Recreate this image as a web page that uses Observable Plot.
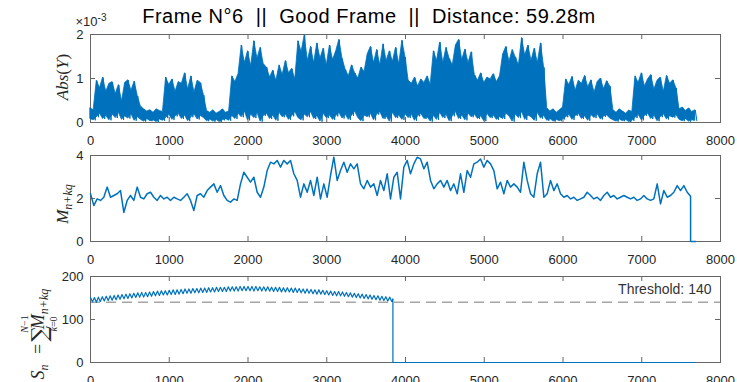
<!DOCTYPE html>
<html><head><meta charset="utf-8">
<script src="https://cdn.jsdelivr.net/npm/d3@7"></script>
<script src="https://cdn.jsdelivr.net/npm/@observablehq/plot@0.6"></script>
<style>
html,body{margin:0;padding:0;background:#fff;}
#fig{position:relative;width:737px;height:382px;overflow:hidden;font-family:"Liberation Sans",Arial,sans-serif;}
#fig svg{position:absolute;left:0;overflow:visible;}
</style></head><body><div id="fig"></div>
<script>
const title = "Frame N°6  ||  Good Frame  ||  Distance: 59.28m";
const xTicks = [0,1000,2000,3000,4000,5000,6000,7000,8000];
const absTicks = [0,1,2];      // units of 1e-3
const mTicks = [0,2,4];
const sTicks = [0,100,200];
const threshold = 140;
const thresholdLabel = "Threshold: 140";

// Panel 1: Abs(Y) (x 1e-3), peak and trough per 40-sample step
const absStep = 40;
const absHi = [0.32,0.28,
0.95,0.78,1.02,0.70,0.88,0.92,0.65,0.85,0.48,0.90,0.96,0.72,0.93,0.60,
0.36,0.30,0.25,0.28,0.22,0.30,0.26,0.24,
1.02,0.85,0.98,0.70,0.92,0.88,1.12,0.75,1.05,0.68,0.95,0.90,0.62,
0.26,0.22,0.28,0.20,0.24,0.30,0.22,0.25,
1.05,0.92,1.10,
1.75,1.35,1.62,1.28,1.85,1.45,1.70,1.32,
1.25,1.02,1.18,0.95,1.30,1.08,1.40,1.12,1.22,0.98,1.85,
1.60,1.98,1.40,1.72,1.35,1.80,1.45,1.68,1.30,1.75,1.42,
1.62,1.88,1.45,
1.20,1.05,1.30,1.12,1.00,1.25,1.15,
1.55,1.72,1.35,1.65,1.30,1.78,1.40,1.62,1.38,1.70,1.32,1.86,1.48,
0.95,0.88,1.02,0.82,0.98,0.90,1.05,0.86,
1.62,1.40,1.82,1.35,1.70,1.45,1.30,1.75,1.88,1.42,1.66,1.35,1.60,
1.08,0.95,1.12,0.90,1.02,0.98,1.10,0.92,1.05,
1.55,1.72,1.38,1.65,1.48,1.30,1.92,1.52,1.75,1.40,1.68,1.35,1.80,1.25,
0.32,0.25,0.30,0.22,0.28,0.34,
0.98,0.85,1.04,0.72,0.95,0.88,1.06,0.80,0.96,0.68,0.92,1.00,0.76,0.94,0.82,
0.28,0.22,0.30,0.25,0.20,0.27,0.24,
1.05,0.90,1.12,0.82,0.98,1.08,0.75,0.95,1.02,0.70,1.06,0.88,0.96,0.78,
0.30,0.34,0.26,0.32,0.24,0.28];
const absLo = [0.08,0.05,
0.12,0.20,0.08,0.15,0.05,0.18,0.10,0.22,0.06,0.14,0.09,0.19,0.04,0.12,
0.06,0.02,0.08,0.03,0.05,0.01,0.07,0.04,
0.10,0.18,0.06,0.14,0.20,0.08,0.16,0.03,0.12,0.19,0.07,0.15,0.10,
0.03,0.07,0.02,0.06,0.01,0.05,0.08,0.04,
0.15,0.08,0.20,
0.12,0.25,0.05,0.18,0.10,0.22,0.02,0.15,
0.20,0.08,0.16,0.04,0.22,0.12,0.18,0.06,0.14,0.24,0.10,
0.05,0.18,0.12,0.24,0.08,0.15,0.02,0.20,0.10,0.16,0.06,
0.14,0.22,0.09,
0.18,0.06,0.15,0.25,0.10,0.03,0.16,
0.12,0.20,0.05,0.18,0.24,0.08,0.14,0.02,0.22,0.10,0.16,0.06,0.19,
0.10,0.18,0.04,0.14,0.20,0.08,0.12,0.02,
0.15,0.06,0.22,0.10,0.18,0.03,0.14,0.24,0.08,0.16,0.05,0.20,0.12,
0.18,0.08,0.14,0.03,0.20,0.10,0.16,0.06,0.12,
0.08,0.20,0.14,0.02,0.18,0.10,0.24,0.06,0.16,0.12,0.04,0.22,0.09,0.15,
0.04,0.08,0.02,0.06,0.03,0.07,
0.12,0.18,0.06,0.15,0.20,0.08,0.14,0.04,0.17,0.10,0.19,0.07,0.13,0.16,0.09,
0.05,0.02,0.07,0.03,0.06,0.01,0.04,
0.10,0.18,0.05,0.15,0.20,0.08,0.16,0.03,0.12,0.19,0.07,0.14,0.11,0.17,
0.06,0.03,0.08,0.02,0.05,0.04];

// Panel 2: M_{n+kq}, one value every 42.33 samples
const mStep = 42.33;
const mValues = [2.22,1.67,1.98,1.91,2.06,2.53,2.06,2.14,2.22,2.37,
1.35,1.91,2.14,1.91,2.53,2.06,1.98,2.22,2.29,2.06,
1.91,2.14,1.98,2.06,1.91,2.06,1.98,1.91,2.06,2.22,
1.91,1.44,2.14,2.22,2.06,2.37,2.53,2.68,2.29,2.60,
2.14,1.91,1.83,1.98,1.91,2.68,3.22,2.99,2.76,2.99,
2.29,2.06,2.53,3.30,3.69,3.61,3.77,3.46,3.77,3.61,
3.77,3.15,2.84,2.06,2.68,2.29,2.84,2.14,2.99,1.98,
2.68,2.06,3.07,3.92,2.84,3.30,3.69,3.22,3.61,3.38,
3.61,2.68,2.45,2.84,
2.53,2.68,2.14,2.84,2.37,3.15,1.98,2.99,3.22,1.98,
3.46,3.77,3.15,3.61,3.92,3.84,3.38,3.69,2.84,2.45,
2.68,2.84,2.53,2.84,2.37,2.68,2.22,3.15,2.29,3.30,
2.99,3.61,3.69,3.84,3.46,3.77,3.61,3.30,2.45,2.76,
2.22,2.84,2.53,2.68,2.53,2.29,3.69,2.84,2.22,2.06,
3.15,3.69,2.06,2.22,2.84,2.37,2.68,2.22,2.06,2.14,
1.98,2.06,1.91,1.98,2.06,2.29,2.14,1.98,2.06,1.91,
2.14,2.29,2.06,2.14,1.98,2.06,2.14,2.06,1.98,2.06,
1.91,1.98,2.14,1.98,1.91,1.98,2.68,1.75,2.37,2.06,
2.14,2.29,2.60,2.37,2.60,2.29];
const mTailX = [7620, 7620, 7683];
const mTailY = [2.10, 0, 0];

// Panel 3: S_n, peak and trough per 50-sample cycle
const sStep = 50;
const sPeak = [151,151,152,153,154,155,156,157,158,159,160,161,162,163,163,164,165,166,167,167,
168,169,169,170,171,171,172,172,173,173,174,174,175,175,175,176,176,176,177,177,
177,177,177,176,176,176,175,175,175,174,174,173,173,172,171,171,170,169,169,168,
167,166,165,165,164,163,162,161,160,159,158,157,156,155,154,153,152];
const sTrough = [141,140,142,143,144,145,146,147,148,149,150,151,152,152,153,154,155,156,157,157,
158,158,159,160,161,161,162,162,163,163,164,164,165,165,165,166,166,166,167,167,
167,166,167,166,166,166,165,165,164,164,164,163,163,162,161,161,160,159,159,158,
157,156,155,155,154,153,152,151,150,149,148,147,146,145,144,143,142];
const sTailX = [3840, 3840, 7683];
const sTailY = [148, 0, 0];

// ---- build tables ----
const absBand = absHi.map((h, i) => ({x: i * absStep, hi: h, lo: absLo[i]}));
const absZig = [];
absHi.forEach((h, i) => {
  absZig.push({x: i * absStep, y: h});
  absZig.push({x: i * absStep + absStep / 2, y: absLo[i]});
});
const mData = mValues.map((v, i) => ({x: i * mStep, y: v}))
  .concat(mTailX.map((x, i) => ({x, y: mTailY[i]})));
const sData = [];
sPeak.forEach((p, i) => {
  sData.push({x: i * sStep, y: p});
  sData.push({x: i * sStep + sStep / 2, y: sTrough[i]});
});
sTailX.forEach((x, i) => sData.push({x, y: sTailY[i]}));

const BLUE = "#0072BD", AX = "#666666", TXT = "#262626";
const W = 737, ML = 90, MR = 17;

function panel({top, height, marginTop, marginBottom, yDomain, yTicks, yFormat, marks, extra = []}) {
  const frameH = height - marginTop - marginBottom;
  const frameW = W - ML - MR;
  const tl = 5;
  const dyT = tl / frameH * (yDomain[1] - yDomain[0]);
  const dxT = tl / frameW * 8000;
  const svg = Plot.plot({
    width: W, height, marginLeft: ML, marginRight: MR, marginTop, marginBottom,
    x: {domain: [0, 8000], label: null},
    y: {domain: yDomain, label: null},
    style: {fontFamily: "'Liberation Sans', Arial, sans-serif", fontSize: "13px", color: TXT, background: "transparent", overflow: "visible"},
    marks: [
      ...extra,
      Plot.frame({stroke: AX, strokeWidth: 1}),
      Plot.ruleX(xTicks, {x: d => d, y1: yDomain[0], y2: yDomain[0] + dyT, stroke: AX}),
      Plot.ruleX(xTicks, {x: d => d, y1: yDomain[1], y2: yDomain[1] - dyT, stroke: AX}),
      Plot.ruleY(yTicks, {y: d => d, x1: 0, x2: dxT, stroke: AX}),
      Plot.ruleY(yTicks, {y: d => d, x1: 8000, x2: 8000 - dxT, stroke: AX}),
      Plot.axisX({ticks: xTicks, tickSize: 0, tickPadding: 13, label: null, tickFormat: d => String(d), fill: TXT}),
      Plot.axisY({ticks: yTicks, tickSize: 0, tickPadding: 7, label: null, tickFormat: yFormat, fill: TXT}),
      ...marks
    ]
  });
  svg.style.top = top + "px";
  document.getElementById("fig").appendChild(svg);
  return d3.select(svg);
}

const s1 = panel({top: 0, height: 146, marginTop: 34, marginBottom: 24, yDomain: [0, 2], yTicks: absTicks,
  yFormat: d => String(d),
  marks: [
    Plot.areaY(absBand, {x: "x", y1: "lo", y2: "hi", fill: BLUE, stroke: BLUE, strokeWidth: 0.8}),
    Plot.line(absZig, {x: "x", y: "y", stroke: BLUE, strokeWidth: 1})
  ]});
const s2 = panel({top: 146, height: 119, marginTop: 9, marginBottom: 24, yDomain: [0, 4], yTicks: mTicks,
  yFormat: d => String(d),
  marks: [Plot.line(mData, {x: "x", y: "y", stroke: BLUE, strokeWidth: 1.5})]});
const s3 = panel({top: 265, height: 117, marginTop: 11, marginBottom: 20, yDomain: [0, 200], yTicks: sTicks,
  yFormat: d => String(d),
  extra: [Plot.ruleY([threshold], {y: d => d, stroke: "#a6a6a6", strokeWidth: 1.5, strokeDasharray: "10,6"})],
  marks: [
    Plot.line(sData, {x: "x", y: "y", stroke: BLUE, strokeWidth: 1.2}),
    Plot.text([thresholdLabel], {frameAnchor: "top-right", text: d => d, dx: -9, dy: 8, lineAnchor: "top", fontSize: 14, fill: "#333"})
  ]});

// title and exponent
s1.append("text").attr("x", 369).attr("y", 23).attr("text-anchor", "middle")
  .style("font-size", "20px").style("letter-spacing", "0.5px").style("white-space", "pre").attr("fill", "#000").text(title);
const ex = s1.append("text").attr("x", 91).attr("y", 26).attr("fill", TXT).style("font-size", "13px");
ex.append("tspan").text("×10");
ex.append("tspan").attr("dy", -5).style("font-size", "10px").text("-3");

const serif = "'Liberation Serif','DejaVu Serif',serif";
// y label 1
{
  const t = s1.append("g").attr("transform", "translate(68,77) rotate(-90)")
    .style("font-family", serif).style("font-size", "17px").attr("fill", TXT)
    .append("text").attr("text-anchor", "middle");
  t.append("tspan").style("font-style", "italic").text("Abs");
  t.append("tspan").text("(");
  t.append("tspan").style("font-style", "italic").text("Y");
  t.append("tspan").text(")");
}
// y label 2 (svg2 top = 146)
{
  const t = s2.append("g").attr("transform", "translate(68," + (204 - 146) + ") rotate(-90)")
    .style("font-family", serif).style("font-size", "17px").attr("fill", TXT)
    .append("text").attr("text-anchor", "middle");
  t.append("tspan").style("font-style", "italic").text("M");
  t.append("tspan").attr("dy", 4).style("font-size", "12px").style("font-style", "italic").text("n+kq");
}
// y label 3 (svg3 top = 265)
{
  const g = s3.append("g").attr("transform", "translate(44," + (318 - 265) + ") rotate(-90)")
    .style("font-family", serif).attr("fill", TXT);
  const a = g.append("text").attr("x", -54).attr("y", 0).style("font-size", "18px");
  a.append("tspan").style("font-style", "italic").text("S");
  a.append("tspan").attr("dy", 4).style("font-size", "12px").style("font-style", "italic").text("n");
  g.append("text").attr("x", -31).attr("y", 0).style("font-size", "18px").text("=");
  g.append("text").attr("x", -16).attr("y", 3).style("font-size", "22px").style("font-family", "'DejaVu Serif',serif").text("∑");
  const up = g.append("text").attr("x", -6).attr("y", -16).attr("text-anchor", "middle").style("font-size", "10px");
  up.append("tspan").style("font-style", "italic").text("N");
  up.append("tspan").text("−1");
  const dn = g.append("text").attr("x", -6).attr("y", 13).attr("text-anchor", "middle").style("font-size", "10px");
  dn.append("tspan").style("font-style", "italic").text("k");
  dn.append("tspan").text("=0");
  const m = g.append("text").attr("x", 9).attr("y", 0).style("font-size", "18px");
  m.append("tspan").style("font-style", "italic").text("M");
  m.append("tspan").attr("dy", 4).style("font-size", "12px").style("font-style", "italic").text("n+kq");
}
</script></body></html>
